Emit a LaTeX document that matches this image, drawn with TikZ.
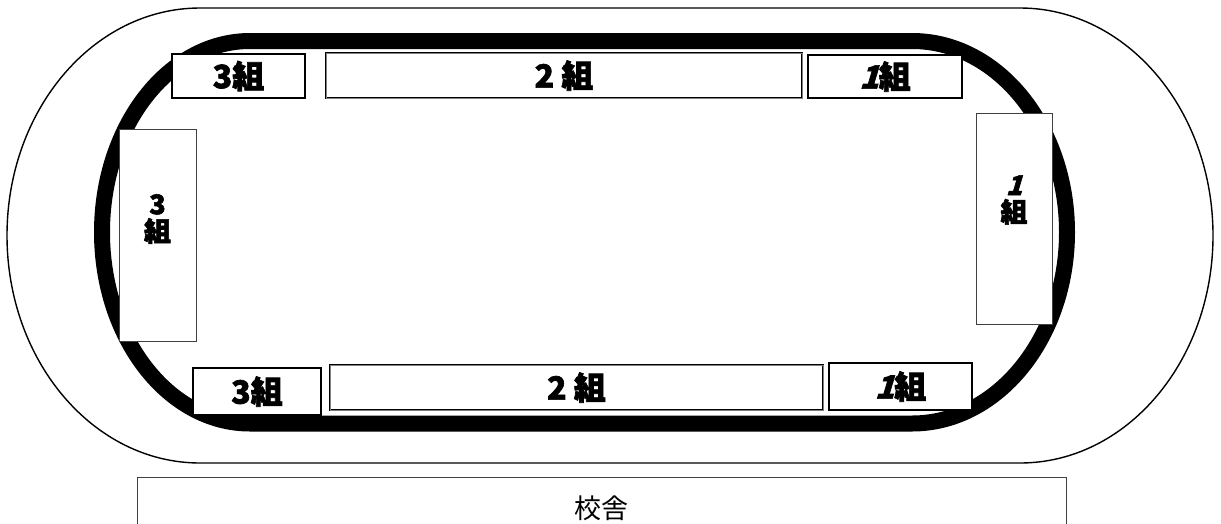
\documentclass[tikz,border=0pt]{standalone}
\usepackage{fontspec}
\usetikzlibrary{positioning}
\newfontfamily\jpfont{Noto Sans CJK JP}
\newfontfamily\jpheavy[BoldFeatures={FakeBold=2}]{Noto Sans CJK JP}
\newfontfamily\jpslfont[BoldFeatures={FakeBold=2}, FakeSlant=0.3]{Noto Sans CJK JP}
\tikzstyle{seat}=[draw, line width=1.6pt, fill=white, inner sep=0pt, font=\jpheavy\bfseries\fontsize{32}{32}\selectfont]
\tikzstyle{bigseat}=[seat, line width=0.9pt, double=gray, double distance=0.7pt]
\tikzstyle{stand}=[draw=black!75, line width=1pt, fill=white, inner sep=0pt]
\tikzstyle{tate}=[align=center, inner sep=0pt, font=\jpheavy\bfseries\fontsize{27}{27}\selectfont]
\newcommand{\one}{{\jpslfont\bfseries 1}}

\begin{document}
\begin{tikzpicture}[x=1pt,y=-1pt]
\useasboundingbox (0,0) rectangle (1221,523);
% outer line and track
\draw[line width=1.4pt] (200,8) -- (1020,8)
  arc[start angle=90, end angle=-90, x radius=193pt, y radius=227.5pt] -- (200,463)
  arc[start angle=270, end angle=90, x radius=193pt, y radius=227.5pt] -- cycle;
\draw[line width=16pt] (250,41) -- (912,41)
  arc[start angle=90, end angle=-90, x radius=155pt, y radius=191.25pt] -- (250,423.5)
  arc[start angle=270, end angle=90, x radius=148pt, y radius=191.25pt] -- cycle;
% seats along the track
\node[seat, minimum width=133pt, minimum height=44pt] (n3) at (238.5,76) {3組};
\node[bigseat, minimum width=476pt, minimum height=45pt] (n2) at (564,75.5) {2 組};
\node[seat, minimum width=154pt, minimum height=43pt] (n1) at (885,76.5) {\one{}組};
\node[stand, minimum width=77pt, minimum height=212pt] (w3) at (157.5,235) {};
\node[tate] (w3t) at (157.5,219) {3\\組};
\node[stand, minimum width=76pt, minimum height=211pt] (e1) at (1014,218.5) {};
\node[tate] (e1t) at (1014,200) {\one\\組};
\node[seat, minimum width=128pt, minimum height=47pt] (s3) at (257,391.5) {3組};
\node[bigseat, minimum width=493pt, minimum height=45pt] (s2) at (576.5,387.5) {2 組};
\node[seat, minimum width=143pt, minimum height=47pt] (s1) at (900.5,386.5) {\one{}組};
% school building
\node[stand, minimum width=929pt, minimum height=62pt, font=\jpfont\fontsize{27}{27}\selectfont] (school) at (601.5,508) {校舎};
\end{tikzpicture}
\end{document}
